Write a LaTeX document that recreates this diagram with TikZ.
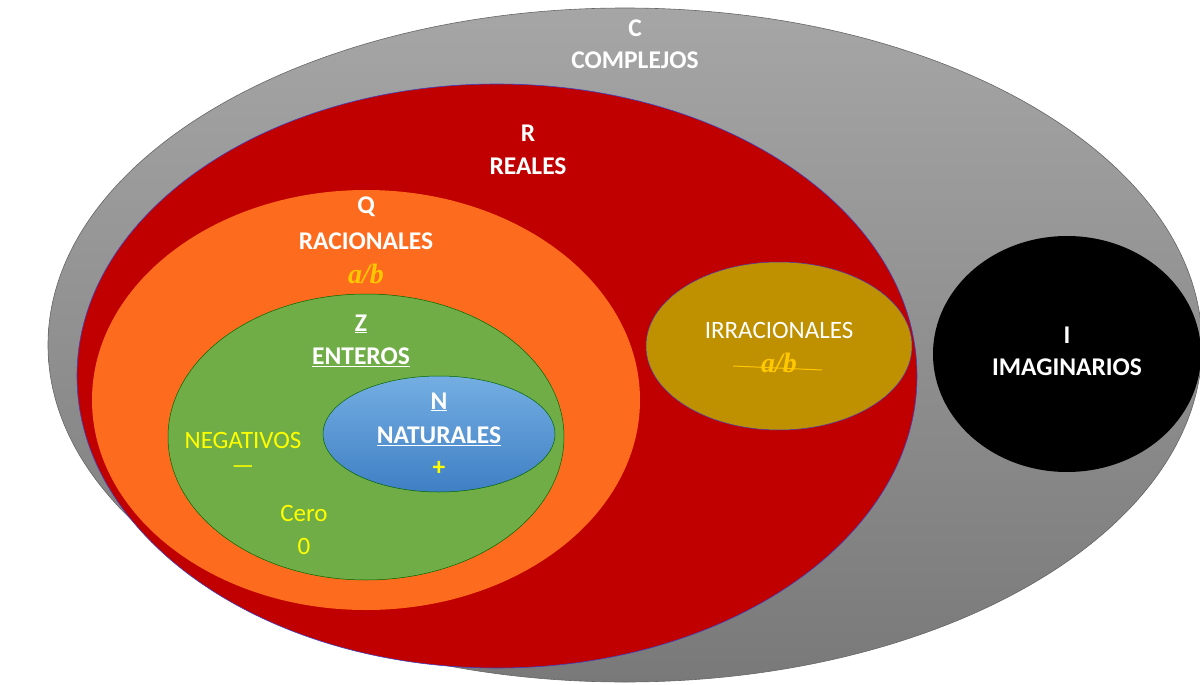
\documentclass[tikz,border=0pt]{standalone}
\usepackage{fontspec}
\setmainfont{Carlito}
\newfontfamily\mathish{Liberation Serif}
\usetikzlibrary{shadings}
\definecolor{redR}{HTML}{C00000}
\definecolor{orQ}{HTML}{FD6C1E}
\definecolor{grZ}{HTML}{70AD47}
\definecolor{goldI}{HTML}{BF9000}
\definecolor{yel}{HTML}{FFFF00}
\definecolor{ylab}{HTML}{FFC800}
\definecolor{bluT}{HTML}{74AEE2}
\definecolor{bluB}{HTML}{3F7FC4}
\tikzset{
 lbl/.style={font=\fontsize{25.5}{28}\selectfont\bfseries, text=white},
 lblr/.style={font=\fontsize{25}{28}\selectfont, text=white},
 ylbl/.style={font=\fontsize{25}{28}\selectfont, text=yel},
 frac/.style={font=\fontsize{28}{30}\selectfont\mathish\bfseries\itshape, text=ylab},
}
\begin{document}
\begin{tikzpicture}[x=1pt,y=-1pt]
\useasboundingbox (0,0) rectangle (1200,685);
\begin{scope}
\clip (0,0) rectangle (1200,685);
\shade[top color=gray!70, bottom color=gray!95!black, draw=black!60, line width=0.6pt] (625,345) ellipse [x radius=577, y radius=337];
\fill[redR, draw=blue!50!gray, line width=0.6pt] (497,376) ellipse [x radius=420, y radius=292];
\fill[orQ] (366,400) ellipse [x radius=274, y radius=210];
\fill[grZ, draw=green!40!black, line width=0.5pt] (366,437) ellipse [x radius=198, y radius=143];
\shade[top color=bluT, bottom color=bluB, draw=green!40!black, line width=0.5pt] (439,434) ellipse [x radius=116, y radius=58];
\fill[goldI, draw=blue!50!gray, line width=0.5pt] (779,346) ellipse [x radius=133, y radius=84];
\fill[black] (1067,354) ellipse [x radius=134, y radius=118];
\end{scope}
\node[lbl] (c1) at (635,28) {C};
\node[lbl] (c2) at (635,60) {COMPLEJOS};
\node[lbl] (r1) at (528,133) {R};
\node[lbl] (r2) at (528,166) {REALES};
\node[lbl] (q1) at (366,207) {Q};
\node[lbl] (q2) at (366,241) {RACIONALES};
\node[frac] (q3) at (366,274) {a/b};
\node[lbl] (z1) at (361,324) {\underline{Z}};
\node[lbl] (z2) at (361,357) {\underline{ENTEROS}};
\node[lbl] (n1) at (439,402) {\underline{N}};
\node[lbl] (n2) at (439,436) {\underline{NATURALES}};
\node[lbl, text=yel] (n3) at (439,468) {+};
\node[ylbl] (neg1) at (243,440) {NEGATIVOS};
\node[ylbl] (neg2) at (243,470) {—};
\node[ylbl] (cero1) at (304,513) {Cero};
\node[ylbl] (cero2) at (304,546) {0};
\node[lblr] (ir1) at (779,330) {IRRACIONALES};
\node[frac] (ir2) at (779,363) {a/b};
\coordinate (s1) at (733,366);
\coordinate (s2) at (822,370);
\draw[ylab, line width=1pt] (s1) -- (s2);
\node[lbl] (i1) at (1067,335) {I};
\node[lbl] (i2) at (1067,367) {IMAGINARIOS};
\end{tikzpicture}
\end{document}
